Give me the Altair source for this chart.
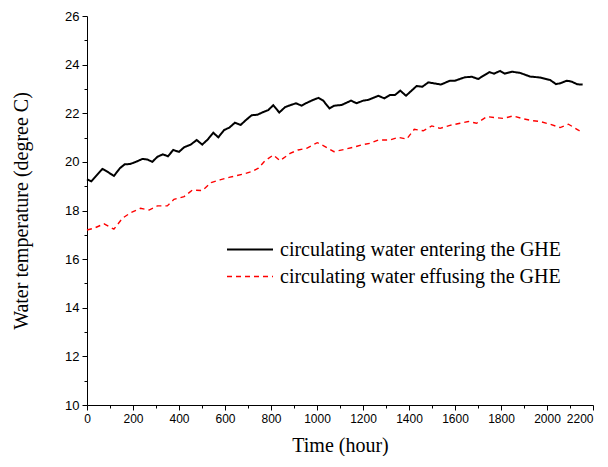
import altair as alt
import pandas as pd

# entering the GHE (black, solid)
t_in = [0, 19, 67, 88, 117, 143, 164, 187, 212, 241, 262, 284, 306, 330, 352, 375, 400, 422, 451, 477,
        501, 526, 549, 571, 596, 619, 643, 668, 691, 716, 741, 764, 788, 810, 836, 861, 886, 909, 933, 958,
        984, 1006, 1027, 1054, 1074, 1107, 1148, 1172, 1201, 1223, 1267, 1293, 1317, 1339, 1362, 1387, 1433,
        1458, 1484, 1539, 1578, 1600, 1643, 1673, 1701, 1749, 1770, 1796, 1817, 1847, 1883, 1926, 1970, 2013,
        2039, 2057, 2086, 2107, 2132, 2155]
v_in = [19.28, 19.2, 19.71, 19.6, 19.42, 19.74, 19.9, 19.91, 20.0, 20.12, 20.1, 20.0, 20.21, 20.31, 20.23,
        20.49, 20.41, 20.6, 20.71, 20.9, 20.71, 20.93, 21.2, 21.01, 21.31, 21.41, 21.61, 21.52, 21.72, 21.92,
        21.94, 22.04, 22.13, 22.33, 22.03, 22.25, 22.34, 22.41, 22.31, 22.44, 22.55, 22.63, 22.52, 22.2, 22.31,
        22.34, 22.52, 22.41, 22.52, 22.55, 22.72, 22.61, 22.75, 22.75, 22.93, 22.72, 23.12, 23.09, 23.27, 23.18,
        23.34, 23.34, 23.48, 23.5, 23.41, 23.69, 23.63, 23.74, 23.63, 23.71, 23.66, 23.51, 23.47, 23.37, 23.2,
        23.23, 23.34, 23.3, 23.19, 23.18]

# effusing the GHE (red, dashed)
t_out = [0, 30, 74, 96, 117, 154, 190, 233, 270, 306, 349, 378, 422, 458, 501, 540, 578, 622, 680, 716,
         745, 774, 810, 839, 883, 918, 955, 1001, 1035, 1074, 1122, 1158, 1194, 1230, 1267, 1317, 1354, 1390,
         1423, 1462, 1499, 1535, 1578, 1622, 1658, 1694, 1738, 1774, 1810, 1853, 1897, 1933, 1970, 2013, 2057,
         2093, 2136, 2150]
v_out = [17.2, 17.27, 17.45, 17.34, 17.23, 17.68, 17.91, 18.09, 18.02, 18.19, 18.19, 18.46, 18.57, 18.84,
         18.82, 19.15, 19.26, 19.37, 19.5, 19.6, 19.74, 20.05, 20.28, 20.05, 20.35, 20.49, 20.56, 20.79, 20.63,
         20.42, 20.52, 20.6, 20.7, 20.76, 20.9, 20.9, 21.01, 20.94, 21.34, 21.28, 21.48, 21.38, 21.5, 21.59,
         21.66, 21.59, 21.86, 21.82, 21.79, 21.89, 21.77, 21.7, 21.66, 21.55, 21.41, 21.55, 21.31, 21.22]

series_names = ["circulating water entering the GHE", "circulating water effusing the GHE"]
x_ticks = list(range(0, 2201, 100))
y_ticks = list(range(10, 27, 1))

df = pd.concat([
    pd.DataFrame({"t": t_in, "v": v_in, "s": series_names[0]}),
    pd.DataFrame({"t": t_out, "v": v_out, "s": series_names[1]}),
])

chart = alt.Chart(df).mark_line().encode(
    x=alt.X("t:Q", scale=alt.Scale(domain=[0, 2200], nice=False),
            axis=alt.Axis(title="Time (hour)", values=x_ticks, format="d",
                          labelExpr="datum.value % 200 == 0 ? datum.label : ''",
                          labelAlign={"condition": {"test": "datum.value == 2200", "value": "right"},
                                      "value": "center"},
                          tickSize={"condition": {"test": "datum.value % 200 == 0", "value": 5}, "value": 3},
                          labelFontSize=12, titlePadding=11, titleFontWeight="normal")),
    y=alt.Y("v:Q", scale=alt.Scale(domain=[10, 26], nice=False),
            axis=alt.Axis(title="Water temperature (degree C)", values=y_ticks, format="d",
                          labelExpr="datum.value % 2 == 0 ? datum.label : ''",
                          tickSize={"condition": {"test": "datum.value % 2 == 0", "value": 5}, "value": 3},
                          labelFontSize=13, titlePadding=33, titleFontWeight="normal")),
    color=alt.Color("s:N", scale=alt.Scale(domain=series_names, range=["#000000", "#ff0000"]),
                    legend=alt.Legend(title=None, orient="none", legendX=139, legendY=220,
                                      symbolType="stroke", symbolSize=2116, symbolStrokeWidth=2,
                                      clipHeight=27, rowPadding=0,
                                      labelFont="Liberation Serif", labelFontSize=20, labelColor="#000",
                                      labelLimit=400, labelOffset=6)),
    strokeDash=alt.StrokeDash("s:N", scale=alt.Scale(domain=series_names, range=[[1, 0], [5, 4]]),
                              legend=None),
    strokeWidth=alt.StrokeWidth("s:N", scale=alt.Scale(domain=series_names, range=[2, 1.4]), legend=None),
).properties(
    width=506, height=389, autosize=alt.AutoSizeParams(type="none"),
    padding={"left": 79, "top": 8, "right": 7, "bottom": 51},
).configure_view(stroke=None).configure_axis(
    domainColor="#000", tickColor="#000", labelColor="#000", titleColor="#000",
    labelFont="Liberation Sans", titleFont="Liberation Serif", titleFontSize=20,
    titleFontWeight="normal", grid=False, labelPadding=3, labelFlush=False, labelOverlap=False,
)

chart.save("out.html", embed_options={"renderer": "svg", "actions": False})
